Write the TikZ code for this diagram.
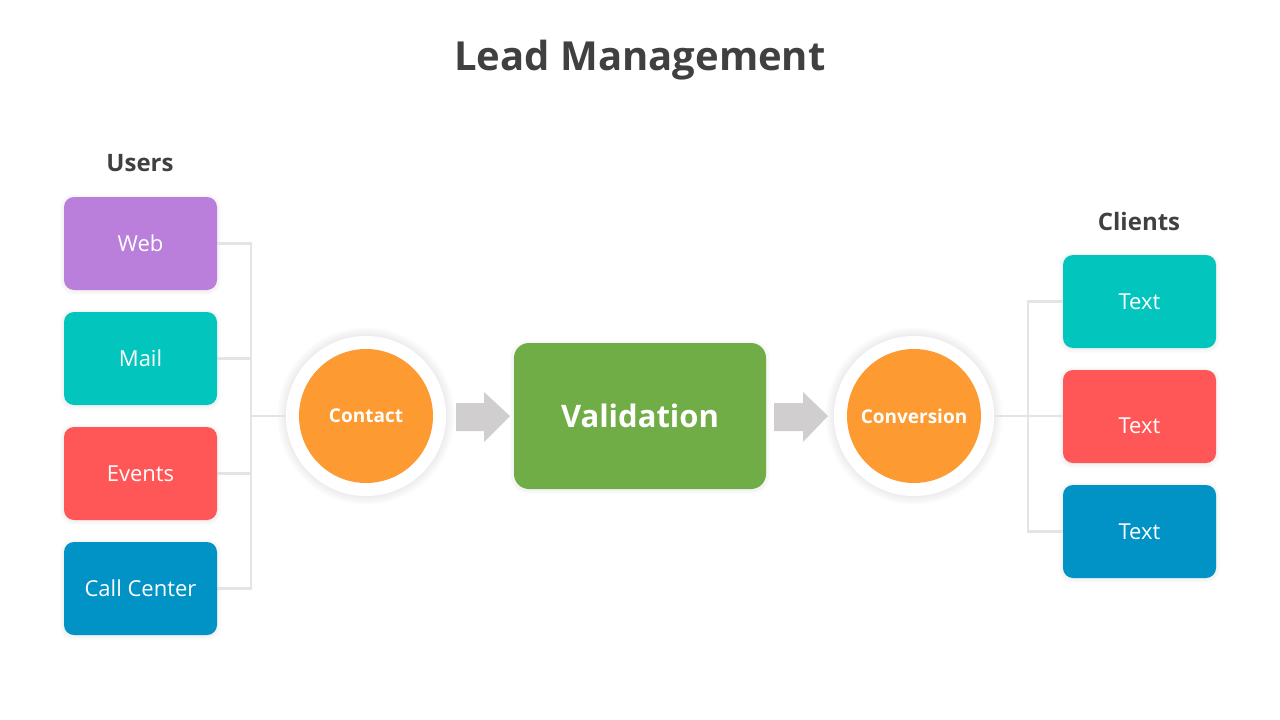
\documentclass[tikz,border=0pt]{standalone}
\usepackage{fontspec}
\setmainfont{Open Sans}
\usetikzlibrary{backgrounds}
\definecolor{cpurple}{HTML}{BA7FDA}
\definecolor{cteal}{HTML}{02C5BE}
\definecolor{cred}{HTML}{FF5757}
\definecolor{cblue}{HTML}{0192C6}
\definecolor{corange}{HTML}{FE9A32}
\definecolor{cgreen}{HTML}{70AD47}
\definecolor{carrow}{HTML}{D0CECE}
\definecolor{cline}{HTML}{E4E4E4}
\definecolor{ctitle}{HTML}{404040}
\tikzset{
  catbox/.style={rounded corners=10pt, minimum width=153pt, minimum height=93pt,
    inner sep=0pt, text=white, font=\fontsize{22}{26}\selectfont},
  ring/.style={circle, fill=white, minimum size=160pt, inner sep=0pt},
  core/.style={circle, fill=corange, minimum size=134pt, inner sep=0pt, text=white,
    font=\bfseries\fontsize{19}{22}\selectfont},
  link/.style={draw=cline, line width=2.8pt},
  blockarrow/.style={fill=carrow},
  heading/.style={text=ctitle, font=\bfseries\fontsize{24}{28}\selectfont},
}
\newcommand\ringshadow[2]{%
  \foreach \k in {1,...,9}{\fill[black,opacity=0.008] (#1) circle ({#2+\k});}}
\newcommand\boxshadow[2]{%
  \foreach \k in {1,...,4}{\fill[black,opacity=0.01,rounded corners={#2+\k}]
    ([shift={(-\k,-\k+1)}]#1.north west) rectangle ([shift={(\k,\k+1)}]#1.south east);}}
\begin{document}
\begin{tikzpicture}[x=1pt,y=-1pt]
\useasboundingbox (0,0) rectangle (1280,720);

\node[text=ctitle, font=\bfseries\fontsize{40}{46}\selectfont] (title) at (640,60) {Lead Management};
\node[heading] (users) at (140,163) {Users};
\node[heading] (clients) at (1139,221) {Clients};

% left boxes
\node[catbox, fill=cpurple] (web) at (140.5,243.5) {Web};
\node[catbox, fill=cteal] (mail) at (140.5,358.5) {Mail};
\node[catbox, fill=cred] (events) at (140.5,473.5) {Events};
\node[catbox, fill=cblue] (callc) at (140.5,588.5) {Call Center};

% circles
\node[ring] (contactring) at (366,416) {};
\node[core] (contact) at (366,416) {Contact};
\node[ring] (convring) at (914,416) {};
\node[core] (conv) at (914,416) {Conversion};

% validation
\node[rounded corners=15pt, fill=cgreen, minimum width=252pt, minimum height=146pt,
  inner sep=0pt, text=white, font=\bfseries\fontsize{31}{36}\selectfont] (valid) at (640,416) {Validation};

% right boxes
\node[catbox, fill=cteal] (t1) at (1139.5,301.5) {Text};
\node[catbox, fill=cred, label={[text=white, font=\fontsize{22}{26}\selectfont, yshift=-9pt]center:Text}] (t2) at (1139.5,416.5) {};
\node[catbox, fill=cblue] (t3) at (1139.5,531.5) {Text};

\begin{scope}[on background layer]
  \fill[white] (0,0) rectangle (1280,720);
  \ringshadow{contactring}{80}
  \ringshadow{convring}{80}
  \foreach \b in {web,mail,events,callc,t1,t2,t3}{\boxshadow{\b}{10}}
  \boxshadow{valid}{15}
  % connectors
  \coordinate (jl) at (251,416);
  \coordinate (jr) at (1028,416);
  \draw[link] (web.east) -| (jl);
  \draw[link] (callc.east) -| (jl);
  \draw[link] (mail.east) -- (mail.east -| jl);
  \draw[link] (events.east) -- (events.east -| jl);
  \draw[link] (jl) -- (contactring.west);
  \draw[link] (t1.west) -| (jr);
  \draw[link] (t3.west) -| (jr);
  \draw[link] (convring.east) -- (t2.west |- jr);
\end{scope}

% block arrows
\coordinate (a1) at (456,416);
\fill[blockarrow] (a1) ++(0,-13) -- ++(28,0) -- ++(0,-11) -- ++(26,24) -- ++(-26,26) -- ++(0,-11) -- ++(-28,0) -- cycle;
\coordinate (a2) at (774,416);
\fill[blockarrow] (a2) ++(0,-13) -- ++(29,0) -- ++(0,-11) -- ++(25,24) -- ++(-25,26) -- ++(0,-11) -- ++(-29,0) -- cycle;
\end{tikzpicture}
\end{document}
